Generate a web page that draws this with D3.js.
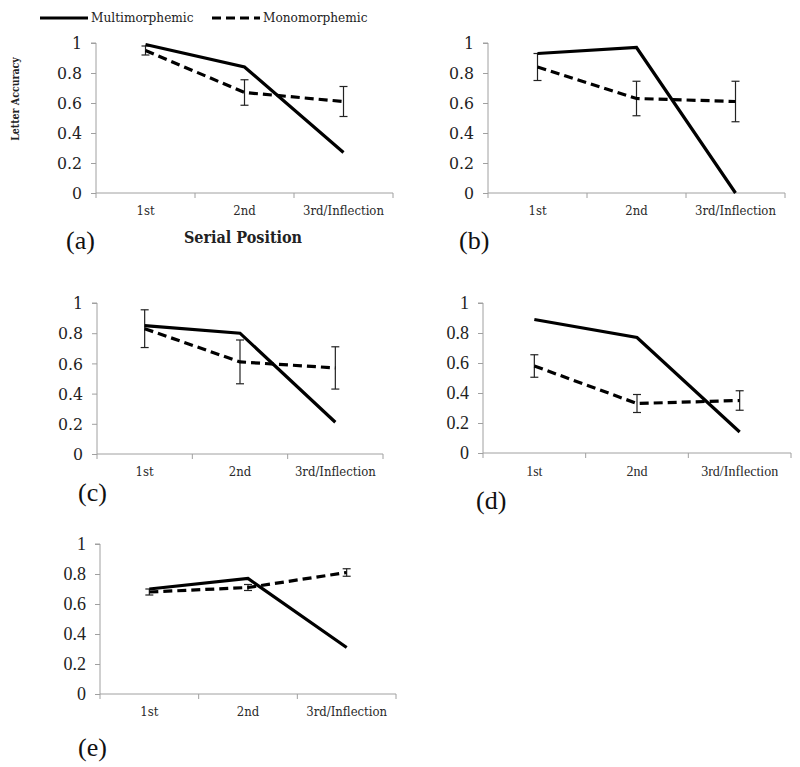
<!DOCTYPE html>
<html>
<head>
<meta charset="utf-8">
<script src="https://cdn.jsdelivr.net/npm/d3@7"></script>
<style>
  html, body { margin: 0; padding: 0; background: #fff; }
  svg { display: block; }
  .cam { font-family: "DejaVu Serif Condensed", "DejaVu Serif", serif; font-stretch: condensed; }
  .tnr { font-family: "Liberation Serif", "Times New Roman", Times, serif; }
</style>
</head>
<body>
<svg id="chart" width="800" height="767"></svg>
<script>
// ---- data ----
const categories = ["1st", "2nd", "3rd/Inflection"];
const yTicks = [0, 0.2, 0.4, 0.6, 0.8, 1];
const seriesNames = ["Multimorphemic", "Monomorphemic"];
const panelLabels = ["(a)", "(b)", "(c)", "(d)", "(e)"];

const multiA = [0.99, 0.84, 0.27];
const monoA  = [0.95, 0.67, 0.61];
const errA   = [0.03, 0.085, 0.10];

const multiB = [0.93, 0.97, 0.0];
const monoB  = [0.84, 0.63, 0.61];
const errB   = [0.09, 0.115, 0.135];

const multiC = [0.85, 0.80, 0.21];
const monoC  = [0.83, 0.61, 0.57];
const errC   = [0.125, 0.145, 0.14];

const multiD = [0.89, 0.77, 0.14];
const monoD  = [0.58, 0.33, 0.35];
const errD   = [0.075, 0.06, 0.065];

const multiE = [0.70, 0.77, 0.31];
const monoE  = [0.68, 0.71, 0.81];
const errE   = [0.02, 0.02, 0.025];

const xTitle = "Serial Position";
const yTitle = "Letter Accuracy";

// ---- layout ----
const panels = [
  { multi: multiA, mono: monoA, err: errA, x0: 96,  x1: 393, y0: 43,  y1: 193, lx: 66,  ly: 249, cls: "cam", yfs: 17.5, xfs: 13 },
  { multi: multiB, mono: monoB, err: errB, x0: 488, x1: 785, y0: 43,  y1: 193, lx: 459, ly: 249, cls: "cam", yfs: 17.5, xfs: 13 },
  { multi: multiC, mono: monoC, err: errC, x0: 97,  x1: 383, y0: 303, y1: 454, lx: 78,  ly: 501, cls: "cam", yfs: 17.5, xfs: 13 },
  { multi: multiD, mono: monoD, err: errD, x0: 483, x1: 791, y0: 303, y1: 453, lx: 476, ly: 509, cls: "tnr", yfs: 18, xfs: 14 },
  { multi: multiE, mono: monoE, err: errE, x0: 100, x1: 396, y0: 544, y1: 694, lx: 78,  ly: 756, cls: "tnr", yfs: 18, xfs: 13, xcls: "cam" }
];

const svg = d3.select("#chart");

panels.forEach((p, i) => {
  const g = svg.append("g");
  const x = d3.scaleBand().domain(categories).range([p.x0, p.x1]).padding(0);
  const y = d3.scaleLinear().domain([0, 1]).range([p.y1, p.y0]);
  const cx = c => x(c) + x.bandwidth() / 2;

  // y axis
  const yAxis = d3.axisLeft(y).tickValues(yTicks).tickSize(5).tickPadding(9)
    .tickFormat(d => String(+d.toFixed(1)));
  const ya = g.append("g").attr("transform", `translate(${p.x0},0)`).call(yAxis)
    .attr("font-family", null).attr("class", p.cls);
  ya.select(".domain").attr("stroke", "#a0a0a0").attr("d", `M-5,${p.y0}H0V${p.y1}`);
  ya.selectAll(".tick line").attr("stroke", "#a0a0a0");
  ya.selectAll(".tick text").attr("font-size", p.yfs).attr("fill", "#222");

  // x axis
  const xAxis = d3.axisBottom(x).tickSize(0).tickPadding(13);
  const xa = g.append("g").attr("transform", `translate(0,${p.y1})`).call(xAxis)
    .attr("font-family", null).attr("class", p.xcls || p.cls);
  xa.select(".domain").attr("stroke", "#a0a0a0").attr("d", `M${p.x0},0H${p.x1}`);
  xa.selectAll(".tick text").attr("font-size", p.xfs).attr("fill", "#2a2a2a").attr("dy", "0.71em");
  // category boundary tick marks
  const bounds = categories.map(c => x(c)).concat([p.x1]);
  g.selectAll(".xb").data(bounds).enter().append("line")
    .attr("x1", d => d).attr("x2", d => d)
    .attr("y1", p.y1).attr("y2", p.y1 + 5)
    .attr("stroke", "#a0a0a0");

  const line = d3.line().x((d, j) => cx(categories[j])).y(d => y(d));

  // error bars (monomorphemic)
  const eb = g.selectAll(".eb").data(p.mono).enter().append("g");
  eb.append("line")
    .attr("x1", (d, j) => cx(categories[j])).attr("x2", (d, j) => cx(categories[j]))
    .attr("y1", (d, j) => y(d + p.err[j])).attr("y2", (d, j) => y(d - p.err[j]))
    .attr("stroke", "#222").attr("stroke-width", 1.2);
  eb.append("line")
    .attr("x1", (d, j) => cx(categories[j]) - 4).attr("x2", (d, j) => cx(categories[j]) + 4)
    .attr("y1", (d, j) => y(d + p.err[j])).attr("y2", (d, j) => y(d + p.err[j]))
    .attr("stroke", "#222").attr("stroke-width", 1.2);
  eb.append("line")
    .attr("x1", (d, j) => cx(categories[j]) - 4).attr("x2", (d, j) => cx(categories[j]) + 4)
    .attr("y1", (d, j) => y(d - p.err[j])).attr("y2", (d, j) => y(d - p.err[j]))
    .attr("stroke", "#222").attr("stroke-width", 1.2);

  // lines
  g.append("path").datum(p.mono).attr("d", line)
    .attr("fill", "none").attr("stroke", "#000").attr("stroke-width", 3.2)
    .attr("stroke-dasharray", "9,5");
  g.append("path").datum(p.multi).attr("d", line)
    .attr("fill", "none").attr("stroke", "#000").attr("stroke-width", 3.2)
    .attr("stroke-linejoin", "miter");

  // panel label
  g.append("text").attr("class", "tnr").attr("x", p.lx).attr("y", p.ly)
    .attr("font-size", 26).attr("fill", "#111")
    .text(panelLabels[i]);
});

// axis titles (panel a)
svg.append("text").attr("class", "cam").attr("x", 243).attr("y", 243).attr("text-anchor", "middle")
  .attr("font-weight", "bold").attr("font-size", 16).attr("fill", "#222")
  .text(xTitle);
svg.append("text").attr("class", "cam").attr("transform", "translate(19,99) rotate(-90)").attr("text-anchor", "middle")
  .attr("font-weight", "bold").attr("font-size", 10.5).attr("fill", "#222")
  .text(yTitle);

// legend
const legend = svg.append("g");
const legendItems = [
  { name: seriesNames[0], x: 40, dash: null },
  { name: seriesNames[1], x: 212, dash: "9,5" }
];
legendItems.forEach(it => {
  legend.append("line").attr("x1", it.x).attr("x2", it.x + 48).attr("y1", 18).attr("y2", 18)
    .attr("stroke", "#000").attr("stroke-width", 3.2)
    .attr("stroke-dasharray", it.dash);
  legend.append("text").attr("class", "cam").attr("x", it.x + 51).attr("y", 22)
    .attr("font-size", 13.5).attr("fill", "#222")
    .text(it.name);
});
</script>
</body>
</html>
